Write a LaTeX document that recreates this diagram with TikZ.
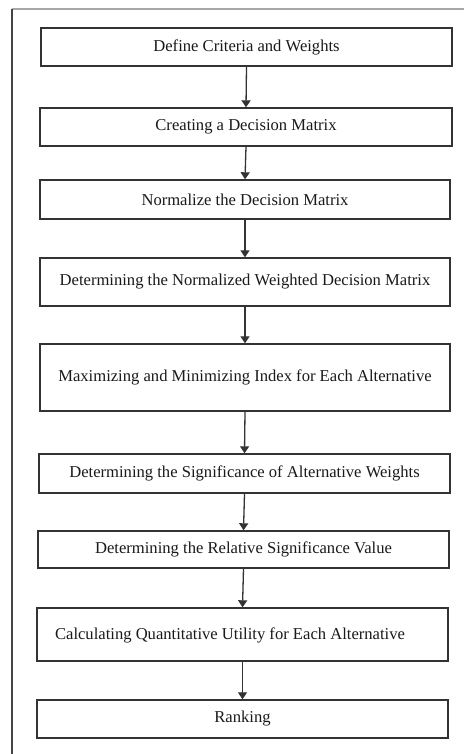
\documentclass[tikz,border=0pt]{standalone}
\usepackage{fontspec}
\setmainfont{Liberation Serif}
\usetikzlibrary{arrows.meta,calc}
\definecolor{boxline}{HTML}{333333}
\definecolor{txt}{HTML}{1A1A1A}
\definecolor{frametop}{HTML}{A8A8A8}
\definecolor{frameleft}{HTML}{444444}
\begin{document}
\begin{tikzpicture}[x=1pt,y=-1pt,
  stepbox/.style={draw=boxline,line width=1.4pt,rectangle,inner sep=0pt,
    text=txt,font=\fontsize{16.6}{20}\selectfont},
  arr/.style={draw=boxline,line width=1.3pt,-{Triangle[width=9pt,length=7pt]}},
  lbl/.style={text=txt,font=\fontsize{16.6}{20}\selectfont,inner sep=0pt}]
\useasboundingbox (0,0) rectangle (464,754);
\fill[white] (0,0) rectangle (464,754);
% outer frame
\draw[frametop,line width=2pt] (12,9) -- (464,9);
\draw[frameleft,line width=1.5pt] (12,9) -- (12,754);
% boxes
\node[stepbox,minimum width=411pt,minimum height=38pt] (b1) at (246.5,47) {Define Criteria and Weights};
\node[stepbox,minimum width=412pt,minimum height=38pt] (b2) at (246,127) {Creating a Decision Matrix};
\node[stepbox,minimum width=410pt,minimum height=39pt] (b3) at (245,199.5) {Normalize the Decision Matrix};
\node[stepbox,minimum width=410pt,minimum height=48pt] (b4) at (245,282) {Determining the Normalized Weighted Decision Matrix};
\node[stepbox,minimum width=410pt,minimum height=67pt] (b5) at (245,377.5) {Maximizing and Minimizing Index for Each Alternative};
\node[stepbox,minimum width=411pt,minimum height=39pt] (b6) at (244.5,473.5) {Determining the Significance of Alternative Weights};
\node[stepbox,minimum width=411pt,minimum height=37pt] (b7) at (243.5,549.5) {Determining the Relative Significance Value};
\node[stepbox,minimum width=411pt,minimum height=53pt] (b8) at (242.5,634.5) {};
\node[lbl] (t8) at (230,635) {Calculating Quantitative Utility for Each Alternative};
\node[stepbox,minimum width=411pt,minimum height=38pt] (b9) at (242.5,719) {Ranking};
% arrows
\draw[arr] (b1.south) -- (b2.north);
\draw[arr] (b2.south) -- (b3.north);
\draw[arr] (b3.south) -- (b4.north);
\draw[arr] (b4.south) -- (b5.north);
\draw[arr] (b5.south) -- (b6.north);
\draw[arr] (b6.south) -- (b7.north);
\draw[arr] (b7.south) -- (b8.north);
\draw[arr] (b8.south) -- (b9.north);
\end{tikzpicture}
\end{document}
